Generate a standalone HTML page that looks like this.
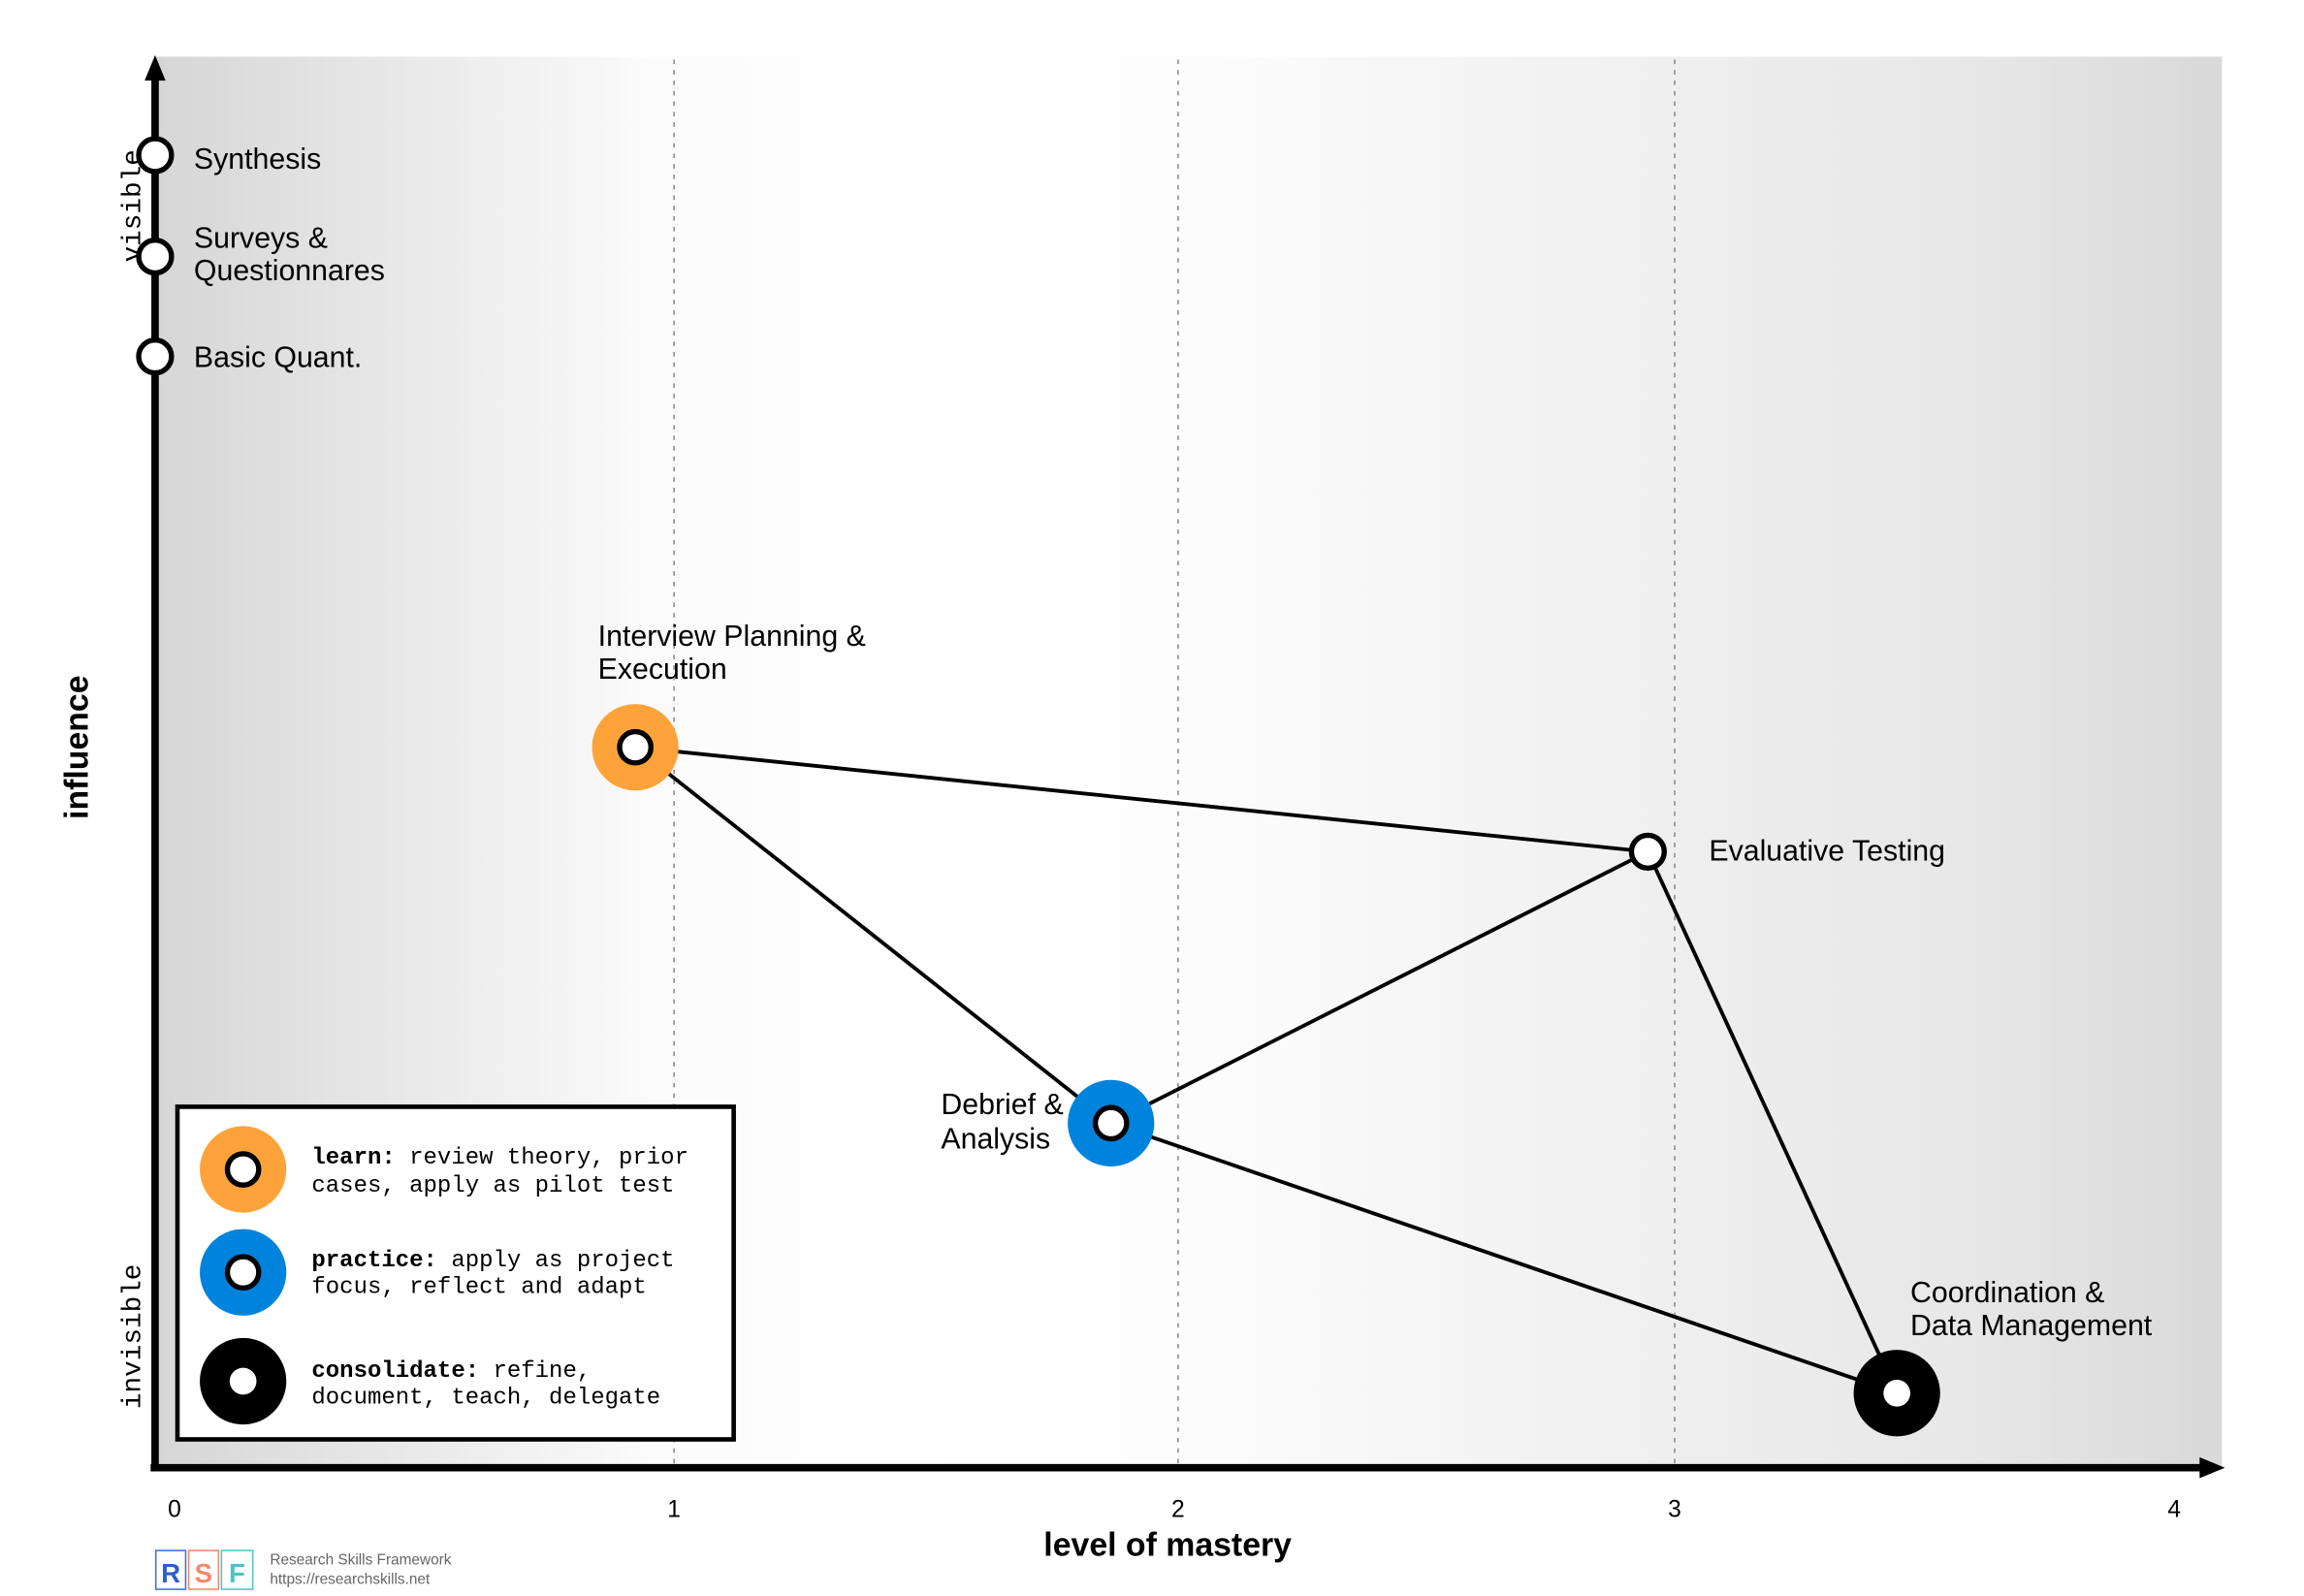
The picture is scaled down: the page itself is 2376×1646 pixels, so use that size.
<!DOCTYPE html>
<html><head><meta charset="utf-8"><style>
html,body{margin:0;padding:0;background:#fff;width:2376px;height:1646px;overflow:hidden}
svg{display:block}
text{font-family:"Liberation Sans",sans-serif}
.m{font-family:"Liberation Mono",monospace}
</style></head><body>
<svg width="2376" height="1646" viewBox="0 0 1545 1070" preserveAspectRatio="none" xmlns="http://www.w3.org/2000/svg">
<defs>
<linearGradient id="bg" x1="104" x2="1490" y1="0" y2="0" gradientUnits="userSpaceOnUse">
<stop offset="0" stop-color="#d6d6d6"/>
<stop offset="0.24" stop-color="#fbfbfb"/>
<stop offset="0.36" stop-color="#ffffff"/>
<stop offset="0.49" stop-color="#fdfdfd"/>
<stop offset="0.73" stop-color="#efefef"/>
<stop offset="0.88" stop-color="#e7e7e7"/>
<stop offset="1" stop-color="#d9d9d9"/>
</linearGradient>
</defs>
<rect x="104" y="38" width="1386" height="945" fill="url(#bg)"/>
<g stroke="#888" stroke-width="1" stroke-dasharray="3,4">
<line x1="452" y1="40" x2="452" y2="983"/>
<line x1="790" y1="40" x2="790" y2="983"/>
<line x1="1123" y1="40" x2="1123" y2="983"/>
</g>
<line x1="104" y1="985" x2="104" y2="52" stroke="#000" stroke-width="5"/>
<polygon points="104,37 97,54 111,54" fill="#000"/>
<line x1="101" y1="984" x2="1478" y2="984" stroke="#000" stroke-width="5"/>
<polygon points="1492,984 1475,977 1475,991" fill="#000"/>
<g font-size="16" text-anchor="middle" fill="#000">
<text x="117" y="1017">0</text><text x="452" y="1017">1</text><text x="790" y="1017">2</text><text x="1123" y="1017">3</text><text x="1458" y="1017">4</text>
</g>
<text x="783" y="1043" font-size="22" font-weight="bold" text-anchor="middle">level of mastery</text>
<text transform="translate(59,501) rotate(-90)" font-size="22" font-weight="bold" text-anchor="middle">influence</text>
<text class="m" transform="translate(94,138) rotate(-90)" font-size="18" text-anchor="middle">visible</text>
<text class="m" transform="translate(94,896) rotate(-90)" font-size="18" text-anchor="middle">invisible</text>
<g stroke="#000" stroke-width="2.5">
<line x1="426" y1="501" x2="1105" y2="571"/>
<line x1="426" y1="501" x2="745" y2="753"/>
<line x1="745" y1="753" x2="1105" y2="571"/>
<line x1="745" y1="753" x2="1272" y2="934"/>
<line x1="1105" y1="571" x2="1272" y2="934"/>
</g>
<g fill="#fff" stroke="#000" stroke-width="3.5">
<circle cx="104" cy="104" r="11"/><circle cx="104" cy="172" r="11"/><circle cx="104" cy="239" r="11"/>
</g>
<g font-size="19.7" fill="#000">
<text x="130" y="113">Synthesis</text>
<text x="130" y="166">Surveys &amp;</text><text x="130" y="188">Questionnares</text>
<text x="130" y="246">Basic Quant.</text>
<text x="401" y="433">Interview Planning &amp;</text><text x="401" y="455">Execution</text>
<text x="1146" y="577">Evaluative Testing</text>
<text x="631" y="747">Debrief &amp;</text><text x="631" y="770">Analysis</text>
<text x="1281" y="873">Coordination &amp;</text><text x="1281" y="895">Data Management</text>
</g>
<circle cx="426" cy="501" r="29" fill="#fda33a"/>
<circle cx="426" cy="501" r="10.5" fill="#fff" stroke="#000" stroke-width="3.5"/>
<circle cx="1105" cy="571" r="11" fill="#fff" stroke="#000" stroke-width="3.5"/>
<circle cx="745" cy="753" r="29" fill="#0083dc"/>
<circle cx="745" cy="753" r="10.5" fill="#fff" stroke="#000" stroke-width="3.5"/>
<circle cx="1272" cy="934" r="29" fill="#000"/>
<circle cx="1272" cy="934" r="9" fill="#fff"/>
<rect x="119" y="742" width="373" height="223" fill="#fff" stroke="#000" stroke-width="3"/>
<circle cx="163" cy="784" r="29" fill="#fda33a"/>
<circle cx="163" cy="784" r="10.5" fill="#fff" stroke="#000" stroke-width="3.5"/>
<circle cx="163" cy="853" r="29" fill="#0083dc"/>
<circle cx="163" cy="853" r="10.5" fill="#fff" stroke="#000" stroke-width="3.5"/>
<circle cx="163" cy="926" r="29" fill="#000"/>
<circle cx="163" cy="926" r="9" fill="#fff"/>
<g font-size="15.6" fill="#000">
<text class="m" x="209" y="780"><tspan font-weight="bold">learn:</tspan> review theory, prior</text>
<text class="m" x="209" y="799">cases, apply as pilot test</text>
<text class="m" x="209" y="849"><tspan font-weight="bold">practice:</tspan> apply as project</text>
<text class="m" x="209" y="867">focus, reflect and adapt</text>
<text class="m" x="209" y="923"><tspan font-weight="bold">consolidate:</tspan> refine,</text>
<text class="m" x="209" y="941">document, teach, delegate</text>
</g>
<rect x="104.5" y="1039.5" width="20" height="26" fill="#fff" stroke="#3a6fd8" stroke-width="1"/>
<rect x="126.5" y="1039.5" width="20" height="26" fill="#fff" stroke="#f08a6c" stroke-width="1"/>
<rect x="148.5" y="1039.5" width="21" height="26" fill="#fff" stroke="#4cc4c8" stroke-width="1"/>
<text x="114.5" y="1061" font-size="18" font-weight="bold" fill="#2f5fc8" text-anchor="middle">R</text>
<text x="136.5" y="1061" font-size="18" font-weight="bold" fill="#f08a6c" text-anchor="middle">S</text>
<text x="159" y="1061" font-size="18" font-weight="bold" fill="#4cc4c8" text-anchor="middle">F</text>
<text x="181" y="1049" font-size="10" fill="#666">Research Skills Framework</text>
<text x="181" y="1062" font-size="10" fill="#666">https://researchskills.net</text>
</svg>
</body></html>
